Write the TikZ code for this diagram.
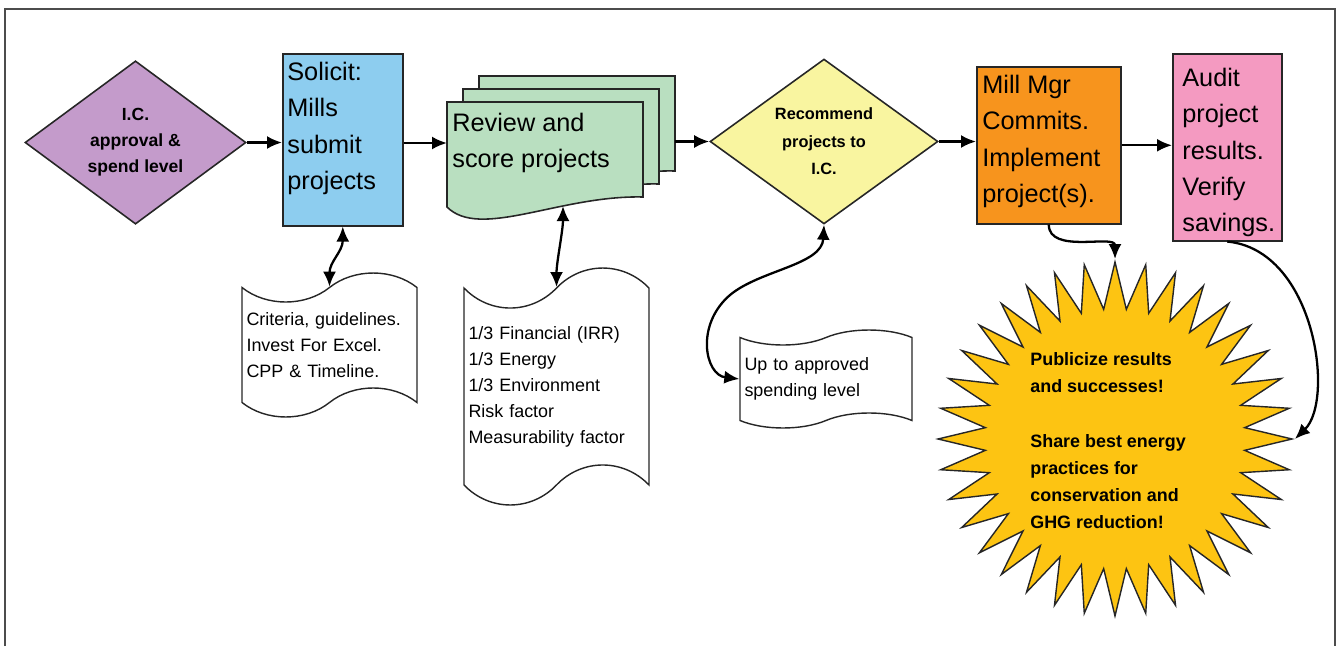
\documentclass[tikz,border=0pt]{standalone}
\usepackage{fontspec}
\setmainfont{Liberation Sans}
\usetikzlibrary{arrows.meta, shapes.geometric, shapes.symbols}

\definecolor{icpurple}{HTML}{C49BCB}
\definecolor{solblue}{HTML}{8DCDEF}
\definecolor{revgreen}{HTML}{B9DFC0}
\definecolor{recyellow}{HTML}{F9F5A0}
\definecolor{millorange}{HTML}{F7941D}
\definecolor{audpink}{HTML}{F49AC1}
\definecolor{stargold}{HTML}{FDC412}

\begin{document}
\begin{tikzpicture}[x=0.02cm, y=-0.02cm,
    frame/.style={draw=black!70, line width=0.6pt},
    box/.style={draw=black!85, line width=0.9pt, anchor=north west, inner sep=0pt},
    boxtext/.style={anchor=north west, inner sep=0pt, align=left, font=\fontsize{14.4}{20.6}\selectfont},
    decision/.style={diamond, draw=black!85, line width=0.9pt, inner sep=0pt, align=center},
    doc/.style={tape, draw=black!85, line width=0.8pt, fill=white, align=left, inner xsep=0.09cm, font=\fontsize{10.2}{14.8}\selectfont},
    sheet/.style={draw=black!85, line width=0.9pt, fill=revgreen},
    link/.style={-{Latex[length=3mm, width=2.6mm]}, line width=1.3pt},
    twoway/.style={{Latex[length=3mm, width=2.6mm]}-{Latex[length=3mm, width=2.6mm]}, line width=1.3pt}]
    \useasboundingbox (0,0) rectangle (1339,646);
    \draw[frame] (5,646) -- (5,9) -- (1335,9) -- (1335,646);

    % Top row
    \node[decision, fill=icpurple, minimum width=4.42cm, minimum height=3.18cm,
          font=\fontsize{10}{14.7}\selectfont\bfseries] (ic) at (135.5,142.5) {I.C.\\approval \&\\spend level};
    \node[box, fill=solblue, minimum width=2.4cm, minimum height=3.44cm] (sol) at (282,53) {};
    \node[boxtext] (sol-t) at (287,62) {Solicit:\\Mills\\submit\\projects};

    % Review stack
    \draw[sheet, shift={(32,-26)}] (447,102) -- (643,102) -- (643,197) .. controls (560,195) and (480,240) .. (447,207) -- cycle;
    \draw[sheet, shift={(16,-13)}] (447,102) -- (643,102) -- (643,197) .. controls (560,195) and (480,240) .. (447,207) -- cycle;
    \draw[sheet] (447,102) -- (643,102) -- (643,197) .. controls (560,195) and (480,240) .. (447,207) -- cycle;
    \node[boxtext] (rev-t) at (452,113) {Review and\\score projects};
    \coordinate (rev-in) at (447,143);
    \coordinate (rev-out) at (675,140);
    \coordinate (rev-bot) at (563,206);

    \node[decision, fill=recyellow, minimum width=4.56cm, minimum height=3.26cm,
          font=\fontsize{9.3}{15.6}\selectfont\bfseries] (rec) at (824,141.5) {Recommend\\projects to\\I.C.};
    \node[box, fill=millorange, minimum width=2.88cm, minimum height=3.14cm] (mill) at (976,66) {};
    \node[boxtext] (mill-t) at (982,75) {Mill Mgr\\Commits.\\Implement\\project(s).};
    \node[box, fill=audpink, minimum width=2.18cm, minimum height=3.74cm] (aud) at (1172,53) {};
    \node[boxtext] (aud-t) at (1182,68) {Audit\\project\\results.\\Verify\\savings.};

    % Documents below
    \node[doc, minimum width=3.5cm, minimum height=2.88cm, text width=3.32cm, tape bend height=0.58cm] (crit) at (329.5,345)
        {Criteria, guidelines.\\Invest For Excel.\\CPP \& Timeline.};
    \node[doc, minimum width=3.7cm, minimum height=4.74cm, text width=3.52cm, tape bend height=0.8cm] (score) at (556.5,386.5)
        {1/3 Financial (IRR)\\1/3 Energy\\1/3 Environment\\Risk factor\\Measurability factor};
    \node[doc, minimum width=3.44cm, minimum height=1.96cm, text width=3.26cm, tape bend height=0.3cm] (spend) at (826,379)
        {Up to approved\\spending level};

    % Starburst
    \node[star, star points=36, star point ratio=1.36, minimum size=7.08cm, inner sep=0pt,
          draw=black!85, line width=0.8pt, fill=stargold] (star) at (1115,439) {};
    \node[anchor=north west, inner sep=0pt, align=left, font=\fontsize{10.2}{15.5}\selectfont\bfseries] (star-t) at (1030,352)
        {Publicize results\\and successes!\\[15.5pt]Share best energy\\practices for\\conservation and\\GHG reduction!};

    % Arrows
    \draw[link] (ic.east) -- (ic.east -| sol.west);
    \draw[link] (sol.east |- rev-in) -- (rev-in);
    \draw[link] (rec.west -| rev-out) -- (rec.west);
    \draw[link] (rec.east) -- (rec.east -| mill.west);
    \draw[link] (mill.east) -- (mill.east -| aud.west);
    \draw[twoway] (sol.south) .. controls +(0,25) and +(0,-25) .. (crit.north);
    \draw[twoway] (rev-bot) .. controls +(0,25) and +(0,-25) .. (score.north);
    \draw[twoway] (rec.south) .. controls (822,265) and (760,270) .. (730,295) .. controls (695,325) and (705,375) .. (spend.west);
    \draw[link] (mill.south) .. controls +(0,30) and +(0,-25) .. (star.north);
    \draw[link] (aud.south) .. controls (1315,250) and (1335,400) .. (star.east);
\end{tikzpicture}
\end{document}
